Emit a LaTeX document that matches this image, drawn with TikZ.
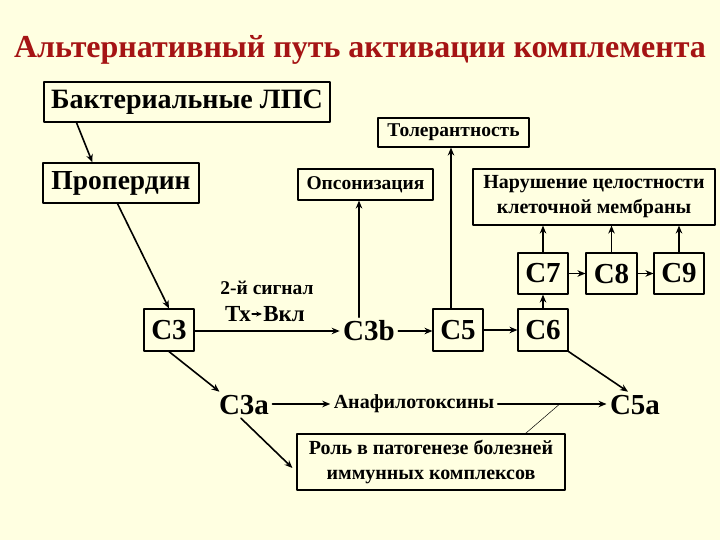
\documentclass[tikz,border=0pt]{standalone}
\usepackage{fontspec}
\setmainfont{Liberation Serif}
\usetikzlibrary{calc,arrows.meta}

\definecolor{hintergrund}{RGB}{255,255,225}
\definecolor{titelrot}{RGB}{165,20,20}

\tikzset{
  kasten/.style={draw, line width=1.1pt, inner sep=0pt, align=center},
  klein/.style={font=\bfseries\fontsize{19.5}{22}\selectfont},
  mittel/.style={font=\bfseries\fontsize{20}{25}\selectfont},
  gross/.style={font=\bfseries\fontsize{29}{30}\selectfont},
  pfeil/.style={-{Stealth[length=8pt,width=6.5pt]}, line width=1.6pt},
}

\begin{document}
\begin{tikzpicture}[>=stealth, line cap=round, line join=round, x=1pt, y=-1pt]

  % Hintergrund und Rahmen
  \fill[hintergrund] (0,0) rectangle (720,540);
  \useasboundingbox (0,0) rectangle (720,540);

  % Titel
  \node[font=\bfseries\fontsize{32}{34}\selectfont, text=titelrot] (titel) at (360,50)
    {Альтернативный путь активации комплемента};

  % Kästen oben
  \node[kasten, minimum width=286, minimum height=40,
        font=\bfseries\fontsize{28}{30}\selectfont] (lps) at (187,102) {Бактериальные ЛПС};
  \node[kasten, minimum width=156, minimum height=40,
        font=\bfseries\fontsize{27.5}{29}\selectfont] (prop) at (121,183) {Пропердин};
  \node[kasten, klein, minimum width=151, minimum height=29] (tol) at (453.5,132.5) {Толерантность};
  \node[kasten, klein, minimum width=135, minimum height=31] (ops) at (365.5,184.5) {Опсонизация};
  \node[kasten, mittel, minimum width=242, minimum height=56] (memb) at (594,197)
    {Нарушение целостности\\клеточной мембраны};

  % Komplementkomponenten
  \node[kasten, gross, minimum width=50, minimum height=42] (c3) at (169,330) {C3};
  \node[gross] (c3b) at (369,331) {C3b};
  \node[kasten, gross, minimum width=50, minimum height=42] (c5) at (458,330) {C5};
  \node[kasten, gross, minimum width=50, minimum height=42] (c6) at (543,330) {C6};
  \node[kasten, gross, minimum width=50, minimum height=41] (c7) at (543,273.5) {C7};
  \node[kasten, gross, minimum width=51, minimum height=41] (c8) at (611.5,273.5) {C8};
  \node[kasten, gross, minimum width=50, minimum height=41] (c9) at (679,273.5) {C9};
  \node[gross] (c3a) at (244,405) {C3a};
  \node[gross] (c5a) at (635,405) {C5a};

  % Beschriftungen
  \node[klein] (signal) at (267,288) {2-й сигнал};
  \node[font=\bfseries\fontsize{23}{25}\selectfont, inner sep=1pt] (tx) at (238,314) {Тх};
  \node[font=\bfseries\fontsize{23}{25}\selectfont, inner sep=1pt] (vkl) at (284,314) {Вкл};
  \node[font=\bfseries\fontsize{20}{22}\selectfont] (anaf) at (414,404) {Анафилотоксины};
  \node[kasten, mittel, minimum width=268, minimum height=56] (rolle) at (431,462)
    {Роль в патогенезе болезней\\иммунных комплексов};

  % Pfeile
  \draw[pfeil] ([xshift=33pt]lps.south west) -- ([xshift=50pt]prop.north west);
  \draw[pfeil] ([xshift=75pt]prop.south west) -- (c3.north);
  \draw[pfeil] (c3b.west -| c3.east) -- (c3b.west);
  \draw[pfeil] (c3b.east) -- (c3b.east -| c5.west);
  \draw[pfeil] (c5.east) -- (c6.west);
  \draw[pfeil] (c6.north) -- (c7.south);
  \draw[pfeil] (c7.east) -- (c8.west);
  \draw[pfeil] (c8.east) -- (c9.west);
  \draw[-{Stealth[length=6pt,width=5pt]}, line width=1.2pt] (tx.east) -- (vkl.west);

  % nach oben
  \draw[pfeil] ([xshift=-10pt]c3b.north) -- ([xshift=-10pt]c3b.north |- ops.south);
  \draw[pfeil] ([xshift=-7pt]c5.north) -- ([xshift=-7pt]c5.north |- tol.south);
  \foreach \k in {c7,c8,c9} {
    \draw[pfeil] (\k.north) -- (\k.north |- memb.south);
  }

  % untere Zweige
  \draw[pfeil] (c6.south east) -- ([xshift=-7pt]c5a.north);
  \draw[pfeil] (c3.south) -- ([xshift=4pt]c3a.north west);
  \draw[pfeil] (anaf.west -| c3a.east) -- (anaf.west);
  \draw[pfeil] (anaf.east) -- (anaf.east -| c5a.west);
  \draw[pfeil] ([xshift=-3pt]c3a.south) -- ([xshift=-4pt,yshift=-6pt]rolle.west);

  % dünne Linie
  \coordinate (knick) at ($(anaf.east)!0.57!(anaf.east -| c5a.west)$);
  \draw[line width=0.5pt] (knick) -- ([xshift=-40pt]rolle.north east);

\end{tikzpicture}
\end{document}
